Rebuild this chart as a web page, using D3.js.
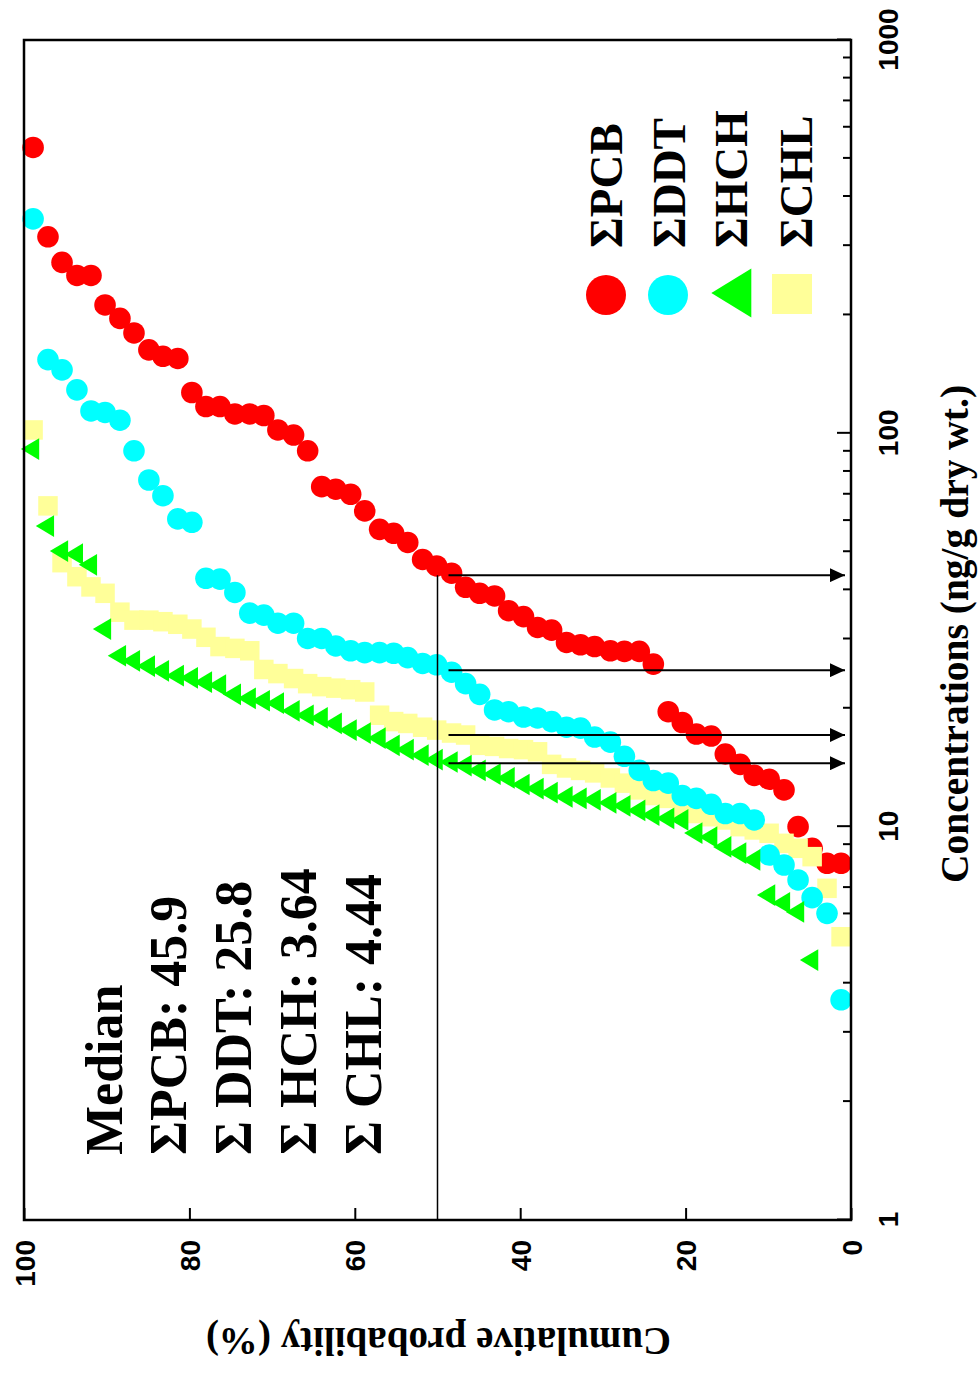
<!DOCTYPE html>
<html>
<head>
<meta charset="utf-8">
<script src="https://cdn.jsdelivr.net/npm/d3@7/dist/d3.min.js"></script>
<style>
  body { margin: 0; background: #fff; }
  svg { display: block; }
</style>
</head>
<body>
<script>
// plotting positions (cumulative probability, %) shared by the series
var probs = [98.9, 97.1, 95.4, 93.6, 91.9, 90.2, 88.4, 86.7, 84.9, 83.2,
             81.4, 79.7, 78.0, 76.3, 74.5, 72.7, 71.0, 69.3, 67.4, 65.7,
             64.0, 62.3, 60.5, 58.8, 57.0, 55.3, 53.6, 51.8, 50.1, 48.3,
             46.6, 44.9, 43.1, 41.4, 39.6, 37.9, 36.2, 34.4, 32.7, 31.0,
             29.1, 27.4, 25.6, 23.9, 22.1, 20.4, 18.7, 16.9, 15.2, 13.4,
             11.7, 9.9, 8.1, 6.4, 4.7, 2.9, 1.2];

// concentrations, ng/g dry wt.
var pcb = [533, 316, 272, 252, 252, 212, 196, 180, 163, 157,
           155, 127, 117, 117, 112, 112, 111, 102, 99, 90.3,
           73.2, 72.1, 70.0, 63.5, 57.0, 55.7, 52.8, 47.8, 46.0, 44.1,
           40.6, 39.2, 38.6, 35.4, 34.2, 32.1, 31.6, 29.4, 29.0, 28.7,
           28.0, 27.9, 27.9, 25.9, 19.6, 18.4, 17.2, 17.0, 15.3, 14.4,
           13.5, 13.2, 12.4, 10.0, 8.81, 8.07, 8.07];
var ddt = [351, 154, 145, 129, 114, 113, 108, 90.3, 76.1, 69.4,
           60.6, 59.4, 42.8, 42.6, 39.4, 34.9, 34.5, 32.9, 32.9, 30.1,
           30.1, 28.8, 28.0, 27.7, 27.7, 27.6, 26.9, 26.0, 25.8, 24.7,
           23.1, 21.7, 19.8, 19.6, 19.0, 18.9, 18.5, 17.9, 17.8, 16.9,
           16.4, 15.1, 13.9, 13.1, 12.9, 12.0, 11.8, 11.4, 10.8, 10.8,
           10.4, 8.47, 7.99, 7.32, 6.60, 6.02, 3.63];
var hch = [91.2, 58.1, 50.2, 49.3, 46.3, 31.8, 27.2, 26.4, 25.6, 24.9,
           24.2, 23.9, 23.3, 22.9, 21.7, 21.2, 20.9, 20.6, 19.7, 19.2,
           18.9, 18.3, 17.6, 17.3, 16.8, 16.1, 15.7, 15.2, 14.8, 14.6,
           14.3, 13.9, 13.6, 13.3, 12.8, 12.5, 12.2, 11.9, 11.8, 11.7,
           11.5, 11.3, 11.0, 10.7, 10.5, 10.4, 9.63, 9.41, 8.88, 8.57,
           8.23, 6.70, 6.40, 6.07, 4.58];
var chl = [102, 65.4, 46.9, 43.2, 40.7, 39.2, 35.1, 33.5, 33.5, 33.2,
           32.7, 31.8, 30.3, 28.7, 28.4, 28.0, 25.1, 24.5, 23.8, 23.1,
           22.7, 22.5, 22.3, 22.0, 19.2, 18.5, 18.3, 17.9, 17.6, 17.3,
           17.1, 16.1, 16.0, 15.8, 15.7, 15.5, 14.4, 14.1, 13.9, 13.7,
           13.3, 12.9, 12.4, 12.0, 11.8, 11.2, 10.8, 10.6, 10.4, 10.0,
           9.81, 9.62, 9.07, 8.81, 8.39, 6.97, 5.25];

// levels where the median arrows hit the concentration axis
var medianArrows = [43.6, 25.0, 17.1, 14.5];
var medianLines = ["Median", "\u03A3PCB: 45.9", "\u03A3 DDT: 25.8", "\u03A3 HCH: 3.64", "\u03A3 CHL: 4.44"];
var legendNames = ["\u03A3PCB", "\u03A3DDT", "\u03A3HCH", "\u03A3CHL"];
var probTicks = [0, 20, 40, 60, 80, 100];
var concMajor = [1, 10, 100, 1000];

var W = 979, H = 1373;
var serif = "'Liberation Serif','Times New Roman',serif";
var sans = "'Liberation Sans',Arial,sans-serif";

var svg = d3.select("body").append("svg")
    .attr("width", W).attr("height", H)
    .style("background", "#fff");

// the figure is drawn upright, then turned a quarter turn anticlockwise
var g = svg.append("g").attr("transform", "translate(0," + H + ") rotate(-90)");

var x = d3.scaleLog().domain([1, 1000]).range([153, 1333]);
var y = d3.scaleLinear().domain([0, 100]).range([851, 24]);

// concentration axis (minor ticks 2..9 each decade)
var concTicks = [];
concMajor.slice(0, 3).forEach(function(d){
    for (var k = 1; k < 10; k++) concTicks.push(d * k);
});
concTicks.push(1000);

var xAxis = g.append("g")
    .attr("transform", "translate(0," + y(0) + ")")
    .call(d3.axisBottom(x).tickValues(concTicks).tickSizeInner(-14).tickSizeOuter(0)
        .tickFormat(function(d){ return concMajor.indexOf(d) >= 0 ? d : ""; }));
xAxis.select(".domain").remove();
xAxis.selectAll(".tick line")
    .attr("stroke-width", 2)
    .attr("y2", function(d){ return concMajor.indexOf(d) >= 0 ? -14 : -8; });
xAxis.selectAll(".tick text")
    .attr("y", 47).attr("dy", 0)
    .style("font-family", sans).style("font-weight", "bold").style("font-size", "28px")
    .attr("fill", "#000");

// probability axis
var yAxis = g.append("g")
    .attr("transform", "translate(" + x(1) + ",0)")
    .call(d3.axisLeft(y).tickValues(probTicks).tickSizeInner(-12).tickSizeOuter(0).tickPadding(20));
yAxis.select(".domain").remove();
yAxis.selectAll(".tick line").attr("stroke-width", 2);
yAxis.selectAll(".tick text")
    .attr("dy", "0.36em")
    .style("font-family", sans).style("font-weight", "bold").style("font-size", "28px")
    .attr("fill", "#000");

// axis titles
g.append("text")
    .attr("x", (x(1) + x(1000)) / 2 - 4).attr("y", 968)
    .attr("text-anchor", "middle")
    .style("font-family", serif).style("font-weight", "bold").style("font-size", "39.5px")
    .text("Concentrations (ng/g dry wt.)");
g.append("text")
    .attr("transform", "translate(45," + (y(50) + 1) + ") rotate(-90)")
    .attr("text-anchor", "middle")
    .style("font-family", serif).style("font-weight", "bold").style("font-size", "39px")
    .text("Cumulative probability (%)");

// markers
function tri(w, h){
    return "M0," + (-2 * h / 3) + "L" + (w / 2) + "," + (h / 3) + "L" + (-w / 2) + "," + (h / 3) + "Z";
}

function pts(vals){
    return vals.map(function(v, i){ return {p: probs[i], c: v}; });
}

g.append("g").selectAll("circle").data(pts(pcb)).enter().append("circle")
    .attr("cx", function(d){ return x(d.c); }).attr("cy", function(d){ return y(d.p); })
    .attr("r", 10.8).attr("fill", "#ff0000");

g.append("g").selectAll("rect").data(pts(chl)).enter().append("rect")
    .attr("x", function(d){ return x(d.c) - 9.75; }).attr("y", function(d){ return y(d.p) - 9.75; })
    .attr("width", 19.5).attr("height", 19.5).attr("fill", "#ffff99");

g.append("g").selectAll("circle").data(pts(ddt)).enter().append("circle")
    .attr("cx", function(d){ return x(d.c); }).attr("cy", function(d){ return y(d.p); })
    .attr("r", 10.8).attr("fill", "#00ffff");

g.append("g").selectAll("path").data(pts(hch)).enter().append("path")
    .attr("transform", function(d){ return "translate(" + x(d.c) + "," + y(d.p) + ")"; })
    .attr("d", tri(21.7, 18.3)).attr("fill", "#00ff00");

// median guide + arrows, drawn over the markers
var defs = svg.append("defs");
defs.append("marker")
    .attr("id", "arrow").attr("markerUnits", "userSpaceOnUse")
    .attr("viewBox", "0 0 15 14").attr("refX", 15).attr("refY", 7)
    .attr("markerWidth", 15).attr("markerHeight", 14).attr("orient", "auto")
    .append("path").attr("d", "M0,0L15,7L0,14Z").attr("fill", "#000");

g.append("line")
    .attr("x1", x(1)).attr("x2", x(medianArrows[0]))
    .attr("y1", y(50)).attr("y2", y(50))
    .attr("stroke", "#000").attr("stroke-width", 1.5);

g.selectAll(".arrow").data(medianArrows).enter().append("line")
    .attr("class", "arrow")
    .attr("x1", function(d){ return x(d); }).attr("x2", function(d){ return x(d); })
    .attr("y1", y(50) + 11).attr("y2", y(0) - 6)
    .attr("stroke", "#000").attr("stroke-width", 2)
    .attr("marker-end", "url(#arrow)");

// frame
g.append("rect")
    .attr("x", x(1)).attr("y", y(100))
    .attr("width", x(1000) - x(1)).attr("height", y(0) - y(100))
    .attr("fill", "none").attr("stroke", "#000").attr("stroke-width", 2.5);

// median text block
g.selectAll(".med").data(medianLines).enter().append("text")
    .attr("class", "med")
    .attr("x", 218)
    .attr("y", function(d, i){ return [122, 186, 251, 316, 381][i]; })
    .style("font-family", serif).style("font-weight", "bold").style("font-size", "52px")
    .text(function(d){ return d; });

// legend
var legY = [606, 668, 738, 792];
var legBase = [622, 685, 747, 812];
var leg = g.append("g");
leg.append("circle").attr("cx", 1078).attr("cy", legY[0]).attr("r", 20).attr("fill", "#ff0000");
leg.append("circle").attr("cx", 1078).attr("cy", legY[1]).attr("r", 20).attr("fill", "#00ffff");
leg.append("path").attr("transform", "translate(1080," + legY[2] + ")")
    .attr("d", tri(49, 40)).attr("fill", "#00ff00");
leg.append("rect").attr("x", 1059).attr("y", legY[3] - 20).attr("width", 40).attr("height", 40)
    .attr("fill", "#ffff99");
leg.selectAll("text").data(legendNames).enter().append("text")
    .attr("x", 1125).attr("y", function(d, i){ return legBase[i]; })
    .style("font-family", serif).style("font-weight", "bold").style("font-size", "47px")
    .text(function(d){ return d; });
</script>
</body>
</html>
